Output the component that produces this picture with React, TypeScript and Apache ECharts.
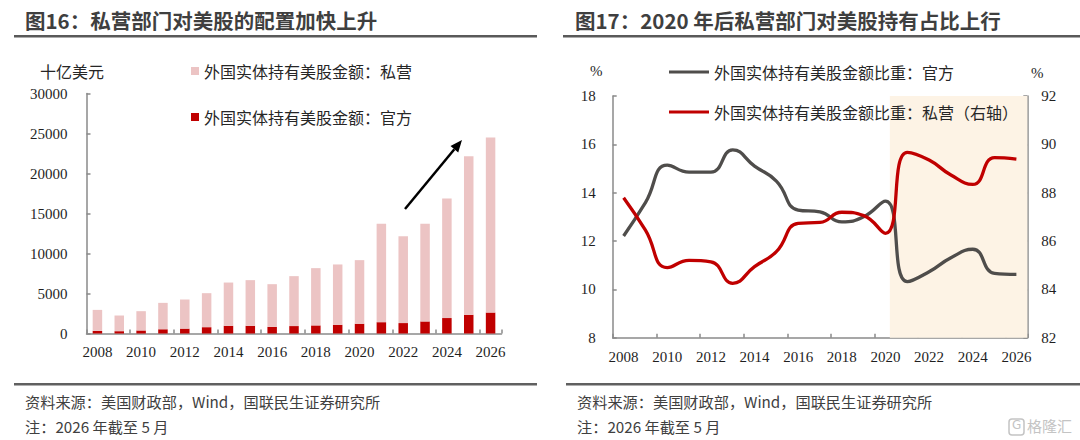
import React, { useEffect, useRef } from "react";
import * as echarts from "echarts";

// ---------- data ----------
const YEARS = ["2008", "2009", "2010", "2011", "2012", "2013", "2014", "2015", "2016", "2017", "2018", "2019", "2020", "2021", "2022", "2023", "2024", "2025", "2026"];
const YEAR_NUM = [2008, 2009, 2010, 2011, 2012, 2013, 2014, 2015, 2016, 2017, 2018, 2019, 2020, 2021, 2022, 2023, 2024, 2025, 2026];

// 十亿美元
const OFFICIAL_AMT = [330, 290, 380, 530, 610, 790, 960, 960, 825, 930, 1010, 1090, 1220, 1420, 1300, 1510, 1930, 2340, 2620];
const PRIVATE_AMT = [2620, 1960, 2410, 3300, 3640, 4250, 5410, 5710, 5340, 6240, 7160, 7540, 7950, 12290, 10870, 12200, 14950, 19830, 21880];

// %
const OFFICIAL_SHARE = [12.21, 13.59, 15.14, 14.85, 14.85, 15.77, 15.1, 14.48, 13.28, 13.21, 12.79, 13.0, 13.65, 10.32, 10.73, 11.31, 11.66, 10.66, 10.62];
const PRIVATE_SHARE = [87.79, 86.45, 84.9, 85.2, 85.14, 84.25, 84.94, 85.56, 86.73, 86.77, 87.19, 87.05, 86.32, 89.67, 89.35, 88.73, 88.34, 89.45, 89.39];

const SHADE_FROM = 2020.2;
const X_MIN = 2007.5;
const X_MAX = 2026.5;

const LEFT_TICKS = { min: 0, max: 30000, interval: 5000 };
const RIGHT_L_TICKS = { min: 8, max: 18, interval: 2 };
const RIGHT_R_TICKS = { min: 82, max: 92, interval: 2 };

const N_PRIVATE = "外国实体持有美股金额：私营";
const N_OFFICIAL = "外国实体持有美股金额：官方";
const N_OFF_SHARE = "外国实体持有美股金额比重：官方";
const N_PRI_SHARE = "外国实体持有美股金额比重：私营（右轴）";

// ---------- styles ----------
const SERIF = "'Liberation Serif', 'Times New Roman', 'Noto Sans CJK SC', serif";
const CJK = "'Noto Sans CJK SC', sans-serif";
const AXIS_COLOR = "#8a8a8a";
const LABEL_COLOR = "#1f1f1f";
const RED = "#C00000";
const PINK = "#ECC4C4";
const GRAY_LINE = "#4f4d4b";

const axisLine = { show: true, lineStyle: { color: AXIS_COLOR, width: 1.5 } };
const axisTickIn = { show: true, inside: true, length: 4, lineStyle: { color: AXIS_COLOR, width: 1.5 } };
const numLabel = { fontFamily: SERIF, fontSize: 15, color: LABEL_COLOR, formatter: (v: any) => String(v) };

function arrowGraphics(x1: number, y1: number, x2: number, y2: number) {
  const dx = x2 - x1;
  const dy = y2 - y1;
  const len = Math.sqrt(dx * dx + dy * dy);
  const ux = dx / len;
  const uy = dy / len;
  const hl = 12;
  const hw = 5;
  const bx = x2 - ux * hl;
  const by = y2 - uy * hl;
  return [
    { type: "line", shape: { x1, y1, x2: bx, y2: by }, style: { stroke: "#000", lineWidth: 2.5 }, z: 10 },
    {
      type: "polygon",
      shape: { points: [[x2, y2], [bx - uy * hw, by + ux * hw], [bx + uy * hw, by - ux * hw]] },
      style: { fill: "#000" },
      z: 10,
    },
  ];
}

export default function App() {
  const ref = useRef<HTMLDivElement | null>(null);

  useEffect(() => {
    document.body.style.margin = "0";
    if (!ref.current) return;
    const chart = echarts.init(ref.current, undefined, { renderer: "svg" });

    const option: any = {
      animation: false,
      backgroundColor: "#ffffff",
      grid: [
        { left: 86.5, top: 93.5, width: 415, height: 240, containLabel: false },
        { left: 612.7, top: 96, width: 414.6, height: 241.7, containLabel: false },
      ],
      legend: [
        {
          orient: "vertical",
          left: 186,
          top: 58,
          itemGap: 30,
          icon: "rect",
          itemWidth: 8,
          itemHeight: 8,
          data: [N_PRIVATE, N_OFFICIAL],
          textStyle: { fontFamily: CJK, fontSize: 16, color: "#262626" },
          selectedMode: false,
        },
        {
          orient: "vertical",
          left: 664,
          top: 59,
          itemGap: 24,
          icon: "rect",
          itemWidth: 40,
          itemHeight: 3,
          data: [N_OFF_SHARE, N_PRI_SHARE],
          textStyle: { fontFamily: CJK, fontSize: 16, color: "#262626" },
          selectedMode: false,
        },
      ],
      xAxis: [
        {
          gridIndex: 0,
          type: "category",
          data: YEARS,
          boundaryGap: true,
          axisLine,
          axisTick: { ...axisTickIn, interval: 1 },
          axisLabel: { ...numLabel, interval: 1, margin: 11 },
          splitLine: { show: false },
        },
        {
          gridIndex: 1,
          type: "value",
          position: "bottom",
          min: X_MIN,
          max: X_MAX,
          minInterval: 2,
          maxInterval: 2,
          splitNumber: 10,
          axisLine,
          axisTick: { show: false },
          axisLabel: {
            ...numLabel,
            margin: 12,
            showMinLabel: true,
            showMaxLabel: true,
            formatter: (v: number) => (Number.isInteger(v) && v % 2 === 0 ? String(v) : ""),
          },
          splitLine: { show: false },
        },
        {
          gridIndex: 1,
          type: "category",
          position: "bottom",
          data: YEARS,
          boundaryGap: true,
          axisLine: { show: false },
          axisTick: { ...axisTickIn, interval: 1 },
          axisLabel: { show: false },
          splitLine: { show: false },
        },
      ],
      yAxis: [
        {
          gridIndex: 0,
          type: "value",
          ...LEFT_TICKS,
          axisLine,
          axisTick: axisTickIn,
          axisLabel: { ...numLabel, margin: 19 },
          splitLine: { show: false },
        },
        {
          gridIndex: 1,
          type: "value",
          position: "left",
          ...RIGHT_L_TICKS,
          axisLine,
          axisTick: axisTickIn,
          axisLabel: { ...numLabel, margin: 17 },
          splitLine: { show: false },
        },
        {
          gridIndex: 1,
          type: "value",
          position: "right",
          ...RIGHT_R_TICKS,
          axisLine,
          axisTick: axisTickIn,
          axisLabel: { ...numLabel, margin: 14 },
          splitLine: { show: false },
        },
      ],
      series: [
        {
          name: N_OFFICIAL,
          type: "bar",
          xAxisIndex: 0,
          yAxisIndex: 0,
          stack: "amt",
          barWidth: 9.5,
          itemStyle: { color: RED },
          data: OFFICIAL_AMT,
        },
        {
          name: N_PRIVATE,
          type: "bar",
          xAxisIndex: 0,
          yAxisIndex: 0,
          stack: "amt",
          barWidth: 9.5,
          itemStyle: { color: PINK },
          data: PRIVATE_AMT,
        },
        {
          name: "shade",
          type: "line",
          xAxisIndex: 1,
          yAxisIndex: 1,
          data: [],
          z: 1,
          silent: true,
          markArea: {
            silent: true,
            itemStyle: { color: "#FDF3E5" },
            data: [[{ xAxis: SHADE_FROM }, { xAxis: X_MAX }]],
          },
        },
        {
          name: N_OFF_SHARE,
          type: "line",
          xAxisIndex: 1,
          yAxisIndex: 1,
          smooth: 0.5,
          showSymbol: false,
          z: 3,
          color: GRAY_LINE,
          lineStyle: { color: GRAY_LINE, width: 3.3 },
          data: YEAR_NUM.map((y, i) => [y, OFFICIAL_SHARE[i]]),
        },
        {
          name: N_PRI_SHARE,
          type: "line",
          xAxisIndex: 1,
          yAxisIndex: 2,
          smooth: 0.5,
          showSymbol: false,
          z: 4,
          color: RED,
          lineStyle: { color: RED, width: 3.3 },
          data: YEAR_NUM.map((y, i) => [y, PRIVATE_SHARE[i]]),
        },
      ],
      graphic: [
        // titles
        {
          type: "text",
          left: 25,
          top: 10,
          style: { text: "图16：私营部门对美股的配置加快上升", fontFamily: CJK, fontSize: 20.5, fontWeight: "bold", fill: "#3f3f3f" },
        },
        {
          type: "text",
          left: 575,
          top: 10,
          style: { text: "图17：2020 年后私营部门对美股持有占比上行", fontFamily: CJK, fontSize: 20.5, fontWeight: "bold", fill: "#3f3f3f" },
        },
        { type: "rect", shape: { x: 14, y: 35, width: 523, height: 2.5 }, style: { fill: "#595959" } },
        { type: "rect", shape: { x: 563, y: 35, width: 517, height: 2.5 }, style: { fill: "#595959" } },
        // units
        {
          type: "text",
          left: 40,
          top: 63,
          style: { text: "十亿美元", fontFamily: CJK, fontSize: 16, fill: "#262626" },
        },
        {
          type: "text",
          left: 590,
          top: 63,
          style: { text: "%", fontFamily: SERIF, fontSize: 15, fill: "#262626" },
        },
        {
          type: "text",
          left: 1031,
          top: 65,
          style: { text: "%", fontFamily: SERIF, fontSize: 15, fill: "#262626" },
        },
        // arrow
        ...arrowGraphics(405, 209, 462, 140),
        // bottom rules & notes
        { type: "rect", shape: { x: 14, y: 383, width: 523, height: 2.5 }, style: { fill: "#606060" } },
        { type: "rect", shape: { x: 566, y: 383, width: 514, height: 2.5 }, style: { fill: "#606060" } },
        {
          type: "text",
          left: 25,
          top: 393,
          style: { text: "资料来源：美国财政部，Wind，国联民生证券研究所", fontFamily: CJK, fontSize: 15.2, fill: "#404040" },
        },
        {
          type: "text",
          left: 25,
          top: 418,
          style: { text: "注：2026 年截至 5 月", fontFamily: CJK, fontSize: 15.2, fill: "#404040" },
        },
        {
          type: "text",
          left: 577,
          top: 393,
          style: { text: "资料来源：美国财政部，Wind，国联民生证券研究所", fontFamily: CJK, fontSize: 15.2, fill: "#404040" },
        },
        {
          type: "text",
          left: 577,
          top: 418,
          style: { text: "注：2026 年截至 5 月", fontFamily: CJK, fontSize: 15.2, fill: "#404040" },
        },
        // watermark
        {
          type: "rect",
          shape: { x: 1009, y: 419, width: 15, height: 16, r: 3 },
          style: { fill: "none", stroke: "#c4c4c4", lineWidth: 1.5 },
        },
        {
          type: "text",
          left: 1012,
          top: 419,
          style: { text: "G", fontFamily: "'DejaVu Sans', sans-serif", fontSize: 12, fill: "#c4c4c4" },
        },
        {
          type: "text",
          left: 1027,
          top: 418,
          style: { text: "格隆汇", fontFamily: CJK, fontSize: 15, fill: "#c4c4c4" },
        },
      ],
    };

    chart.setOption(option);
    return () => {
      chart.dispose();
    };
  }, []);

  return <div ref={ref} style={{ width: 1080, height: 440 }} />;
}
